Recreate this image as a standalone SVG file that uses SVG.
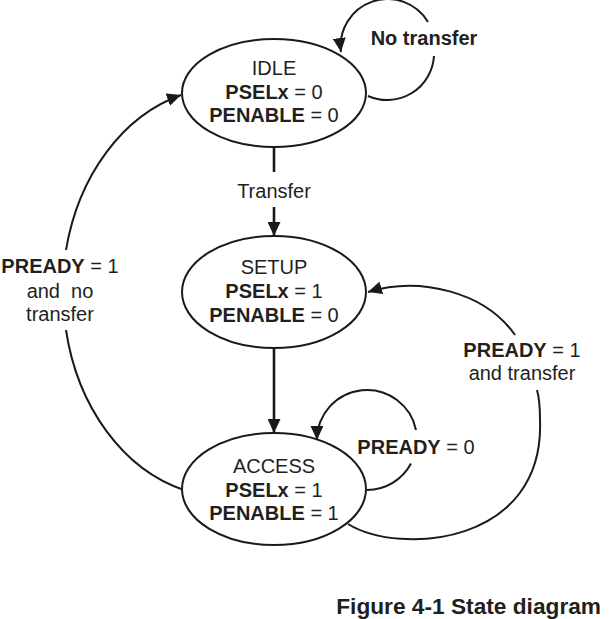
<svg xmlns="http://www.w3.org/2000/svg" width="610" height="619" viewBox="0 0 610 619">
<style>
  text { font-family: "Liberation Sans", Arial, sans-serif; font-size: 20px; fill: #231f20; text-anchor: middle; }
  .b { font-weight: bold; }
  .state { fill: #ffffff; stroke: #1a1a1a; stroke-width: 2; }
  .edge { fill: none; stroke: #1a1a1a; stroke-width: 2; }
  .vedge { fill: none; stroke: #1a1a1a; stroke-width: 2.6; }
</style>
<defs>
  <marker id="arr" markerUnits="userSpaceOnUse" markerWidth="15" markerHeight="13" refX="14" refY="6.5" orient="auto">
    <path d="M0,0 L14,6.5 L0,13 z" fill="#1a1a1a"/>
  </marker>
</defs>
<rect width="610" height="619" fill="#ffffff"/>

<g id="connectors">
  <path class="vedge" d="M274,148 L274,172"/>
  <path class="vedge" d="M274,207 L274,236" marker-end="url(#arr)"/>
  <path class="vedge" d="M274,348 L274,433" marker-end="url(#arr)"/>
  <path class="edge" d="M368,96 A47 47 0 0 0 434,56 M428,22 A47 47 0 0 0 341,52" marker-end="url(#arr)"/>
  <path class="edge" d="M367,490 A50 50 0 0 0 411,463.5 M416,430 A50 50 0 0 0 317,440" marker-end="url(#arr)"/>
  <path class="edge" d="M348,524 C400,556 545,545 540,420 C540,405 539,397 537,390 M515,335 C485,292 420,276 368,292" marker-end="url(#arr)"/>
  <path class="edge" d="M184,490 A163 205 0 0 1 66,330 M66,250 A163 205 0 0 1 181,95" marker-end="url(#arr)"/>
</g>

<g id="idle">
  <ellipse class="state" cx="274" cy="93" rx="92" ry="54"/>
  <text x="274" y="75">IDLE</text>
  <text x="274" y="99"><tspan class="b">PSELx</tspan> = 0</text>
  <text x="274" y="122"><tspan class="b">PENABLE</tspan> = 0</text>
</g>
<g id="setup">
  <ellipse class="state" cx="274" cy="292" rx="92" ry="56"/>
  <text x="274" y="274">SETUP</text>
  <text x="274" y="298"><tspan class="b">PSELx</tspan> = 1</text>
  <text x="274" y="322"><tspan class="b">PENABLE</tspan> = 0</text>
</g>
<g id="access">
  <ellipse class="state" cx="274" cy="489" rx="92" ry="56"/>
  <text x="274" y="473">ACCESS</text>
  <text x="274" y="497"><tspan class="b">PSELx</tspan> = 1</text>
  <text x="274" y="520"><tspan class="b">PENABLE</tspan> = 1</text>
</g>

<g id="labels">
  <text x="274" y="198">Transfer</text>
  <text class="b" x="424" y="45">No transfer</text>
  <text x="416" y="454"><tspan class="b">PREADY</tspan> = 0</text>
  <text x="522" y="357"><tspan class="b">PREADY</tspan> = 1</text>
  <text x="522" y="380">and transfer</text>
  <text x="60" y="273"><tspan class="b">PREADY</tspan> = 1</text>
  <text x="60" y="298" style="white-space:pre">and  no</text>
  <text x="60" y="321">transfer</text>
  <text class="b" x="601" y="614" style="font-size:22.7px; text-anchor:end">Figure 4-1 State diagram</text>
</g>
</svg>
